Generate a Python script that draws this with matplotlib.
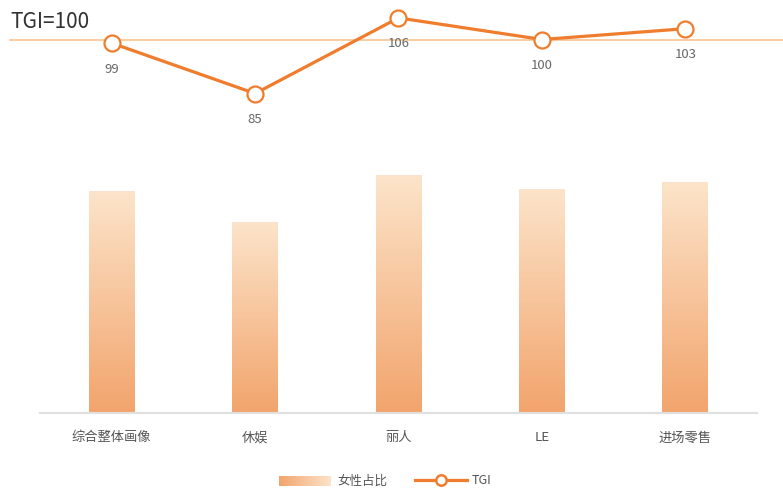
import numpy as np
import matplotlib.pyplot as plt
from matplotlib.colors import LinearSegmentedColormap
from matplotlib.lines import Line2D

plt.rcParams['font.family'] = ['Noto Sans CJK SC', 'DejaVu Sans']

categories = ['综合整体画像', '休娱', '丽人', 'LE', '进场零售']
female_share = [59.4, 51.0, 63.6, 60.0, 61.8]
tgi = [99, 85, 106, 100, 103]

W, H = 783, 489
fig = plt.figure(figsize=(W / 100, H / 100), dpi=100)

bar_light = '#fce4ca'
bar_dark = '#f2a46c'
line_color = '#ef7d2d'
grad = LinearSegmentedColormap.from_list('grad', [bar_dark, bar_light])

# bar panel: x from 40 to 757 px, baseline at 413 px
ax = fig.add_axes([40 / W, (H - 414) / H, 717 / W, 284 / H])
x = np.arange(len(categories))
bars = ax.bar(x, female_share, width=0.32, color='none', edgecolor='none')
g = np.linspace(0, 1, 256).reshape(-1, 1)
for b in bars:
    x0, y0 = b.get_x(), b.get_y()
    im = ax.imshow(g, cmap=grad, origin='lower', aspect='auto',
                   extent=[x0, x0 + b.get_width(), y0, y0 + b.get_height()],
                   zorder=2)
    im.set_clip_path(b)
ax.set_xlim(-0.5, 4.5)
ax.set_ylim(0, 76)
for s in ['top', 'right', 'left']:
    ax.spines[s].set_visible(False)
ax.spines['bottom'].set_color('#e0e0e0')
ax.spines['bottom'].set_linewidth(1.5)
ax.set_yticks([])
ax.set_xticks(x)
ax.set_xticklabels(categories, fontsize=9.5, color='#555555')
ax.tick_params(axis='x', length=0, pad=12.5)

# TGI panel across the full width
px = 717 / 5
ax2 = fig.add_axes([0, (H - 120) / H, 1, 120 / H])
ax2.set_xlim(-0.5 - 40 / px, 4.5 + 26 / px)
ax2.set_ylim(100 - 79.5 / 3.6, 100 + 40.5 / 3.6)
ax2.axis('off')
ax2.axhline(100, xmin=10 / W, xmax=1, color='#f9c594', lw=1.2, zorder=1)
ax2.plot(x, tgi, color=line_color, lw=2.3, marker='o', ms=11.5,
         mfc='white', mec=line_color, mew=1.6, zorder=3, clip_on=False)
for xi, v in zip(x, tgi):
    ax2.annotate(str(v), (xi, v), xytext=(0, -18), textcoords='offset points',
                 ha='center', va='center', fontsize=9.5, color='#666666')
fig.text(10 / W, (H - 22) / H, 'TGI=100', fontsize=15, color='#333333',
         ha='left', va='center')

# legend row
lg = fig.add_axes([0, 0, 1, 30 / H])
lg.axis('off')
lg.imshow(np.linspace(0, 1, 256).reshape(1, -1), cmap=grad, aspect='auto',
          extent=[279, 331, 28, 18])
lg.text(337, 22, '女性占比', fontsize=9, color='#555555', ha='left', va='center')
lg.add_line(Line2D([415, 467], [22, 22], color=line_color, lw=2.3))
lg.plot([441], [22], marker='o', ms=7.5, mfc='white', mec=line_color, mew=1.8)
lg.text(472, 22, 'TGI', fontsize=9, color='#555555', ha='left', va='center')
lg.set_xlim(0, W)
lg.set_ylim(30, 0)

fig.savefig('out.png', dpi=100)
